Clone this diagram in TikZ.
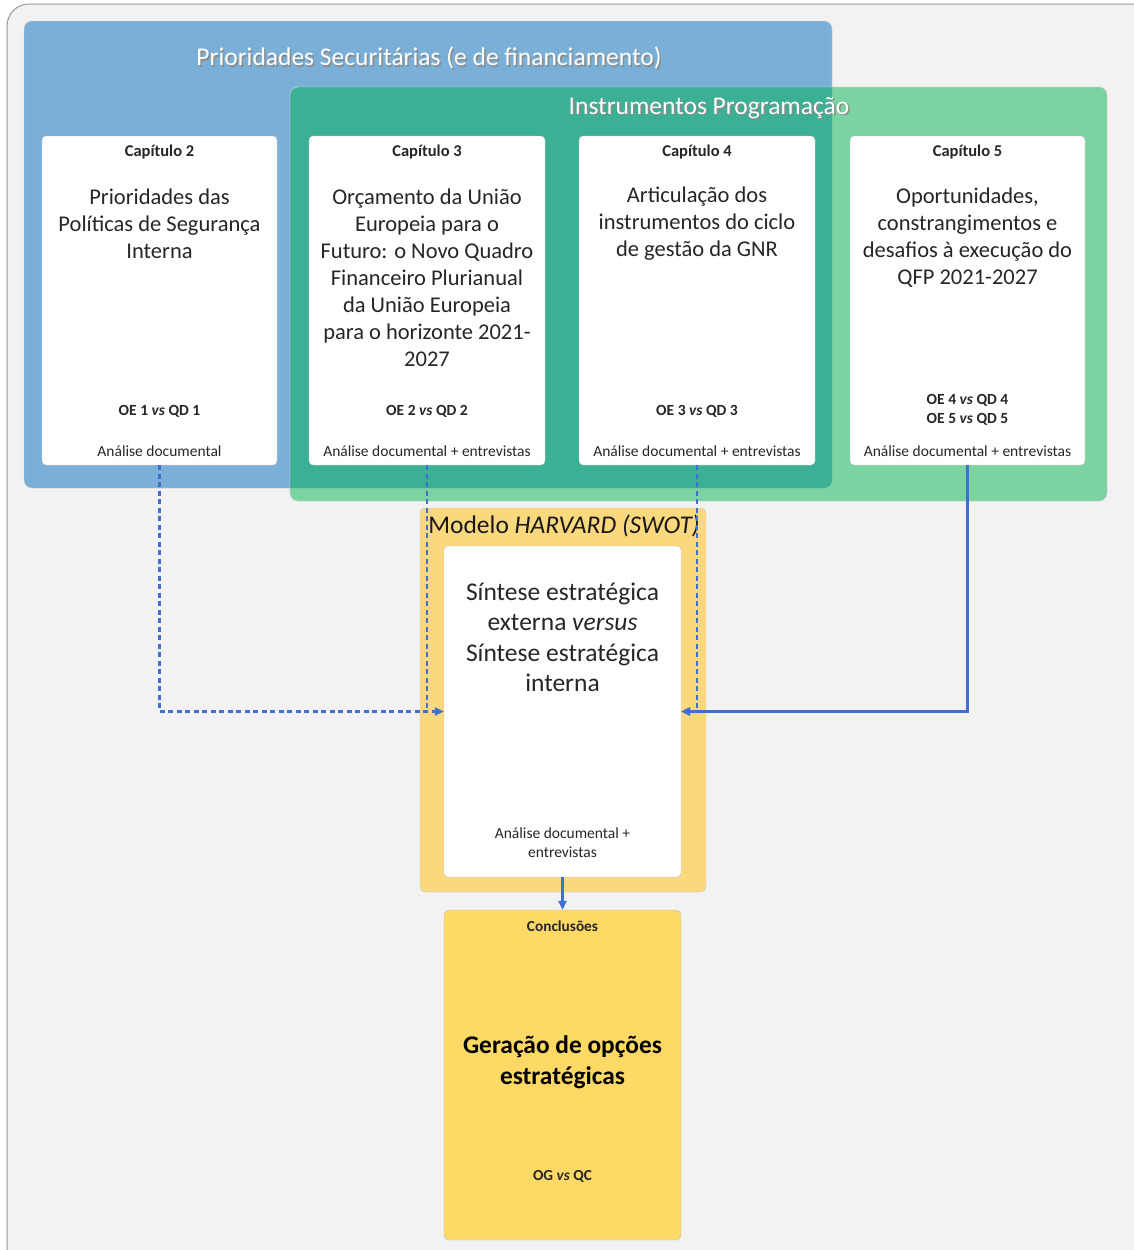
\documentclass[tikz,border=0pt]{standalone}
\usepackage{fontspec}
\setmainfont{Carlito}
\usetikzlibrary{arrows.meta}
\definecolor{bgc}{HTML}{F2F2F2}
\definecolor{bluec}{HTML}{7AB0D8}
\definecolor{greenc}{HTML}{7AD3A0}
\definecolor{tealc}{HTML}{3BB094}
\definecolor{yelo}{HTML}{F9D87E}
\definecolor{yelc}{HTML}{FFD966}
\definecolor{linec}{HTML}{3F6FD0}
\definecolor{txt}{HTML}{262626}
\tikzset{
  wbox/.style={draw=black!22, fill=white, rounded corners=4pt, inner sep=0pt},
  grp/.style={draw=black!20, rounded corners=8pt, inner sep=0pt},
  captitle/.style={font=\fontsize{16.5}{20}\selectfont\bfseries, text=txt},
  body/.style={font=\fontsize{22.5}{27}\selectfont, text=txt, align=center},
  small/.style={font=\fontsize{15.5}{19}\selectfont, text=txt, align=center},
  smallb/.style={font=\fontsize{15.5}{19}\selectfont\bfseries, text=txt, align=center},
  title/.style={font=\fontsize{25.5}{28}\selectfont, text=white},
  shadowt/.style={font=\fontsize{25.5}{28}\selectfont, text=black!45},
  conn/.style={draw=linec, line width=2.2pt},
  dsh/.style={dash pattern=on 5pt off 3.5pt},
  tip/.style={-{Triangle[length=9pt,width=8pt]}}
}
\begin{document}
\begin{tikzpicture}[x=1pt,y=-1pt]
\clip (0,0) rectangle (1134,1250);
% outer background
\node[draw=black!40, fill=bgc, rounded corners=22pt, line width=1pt, minimum width=1160pt, minimum height=1280pt, inner sep=0pt] (bg) at (587,644) {};
% groups
\node[grp, fill=bluec, minimum width=808pt, minimum height=467pt] (blue) at (428,254.5) {};
\node[grp, fill=greenc, minimum width=817pt, minimum height=414pt] (green) at (698.5,294) {};
\begin{scope}
  \clip[rounded corners=8pt] (24,21) rectangle (832,488);
  \fill[tealc, rounded corners=8pt] (290,87) rectangle (1107,501);
\end{scope}
\draw[black!20, rounded corners=8pt] (290,87) rectangle (1107,501);
% titles
\node[shadowt] (t1s) at (430.5,59.5) {Prioridades Securitárias (e de financiamento)};
\node[title] (t1) at (429,58) {Prioridades Securitárias (e de financiamento)};
\node[shadowt] (t2s) at (710.5,109.5) {Instrumentos Programação};
\node[title] (t2) at (709,108) {Instrumentos Programação};
% chapter boxes
\node[wbox, minimum width=235pt, minimum height=329pt] (c2) at (159.5,300.5) {};
\node[wbox, minimum width=236pt, minimum height=329pt] (c3) at (427,300.5) {};
\node[wbox, minimum width=236pt, minimum height=329pt] (c4) at (697,300.5) {};
\node[wbox, minimum width=235pt, minimum height=329pt] (c5) at (967.5,300.5) {};
% chapter texts
\node[captitle] (c2t) at (159.5,152) {Capítulo 2};
\node[captitle] (c3t) at (427,152) {Capítulo 3};
\node[captitle] (c4t) at (697,152) {Capítulo 4};
\node[captitle] (c5t) at (967.5,152) {Capítulo 5};
\node[body] (c2b) at (159.5,224) {Prioridades das\\Políticas de Segurança\\Interna};
\node[body] (c3b) at (427,278) {Orçamento da União\\Europeia para o\\Futuro: o Novo Quadro\\Financeiro Plurianual\\da União Europeia\\para o horizonte 2021-\\2027};
\node[body] (c4b) at (697,224) {Articulação dos\\instrumentos do ciclo\\de gestão da GNR};
\node[body] (c5b) at (967.5,237.5) {Oportunidades,\\constrangimentos e\\desafios à execução do\\QFP 2021-2027};
\node[smallb] (c2o) at (159.5,411) {OE 1 \textit{vs} QD 1};
\node[smallb] (c3o) at (427,411) {OE 2 \textit{vs} QD 2};
\node[smallb] (c4o) at (697,411) {OE 3 \textit{vs} QD 3};
\node[smallb] (c5o) at (967.5,409.5) {OE 4 \textit{vs} QD 4\\OE 5 \textit{vs} QD 5};
\node[small] (c2a) at (159.5,451) {Análise documental};
\node[small] (c3a) at (427,451) {Análise documental + entrevistas};
\node[small] (c4a) at (697,451) {Análise documental + entrevistas};
\node[small] (c5a) at (967.5,451) {Análise documental + entrevistas};
% Harvard
\node[draw=black!20, fill=yelo, rounded corners=5pt, minimum width=286pt, minimum height=384pt, inner sep=0pt] (hv) at (563,700) {};
\node[font=\fontsize{25.5}{28}\selectfont, text=black!90] (hvt) at (564,526) {Modelo \textit{HARVARD (SWOT)}};
\node[wbox, minimum width=237pt, minimum height=331pt] (h) at (562.5,711.5) {};
\node[font=\fontsize{25.5}{30.5}\selectfont, text=txt, align=center] (hb) at (562.5,637.5) {Síntese estratégica\\externa \textit{versus}\\Síntese estratégica\\interna};
\node[small] (ha) at (562.5,843) {Análise documental +\\entrevistas};
% Conclusoes
\node[draw=black!25, fill=yelc, rounded corners=5pt, minimum width=237pt, minimum height=330pt, inner sep=0pt] (cc) at (562.5,1075) {};
\node[font=\fontsize{15.3}{18}\selectfont\bfseries, text=txt] (cct) at (562.5,926) {Conclusões};
\node[font=\fontsize{25.4}{31}\selectfont\bfseries, text=black, align=center] (ccb) at (562.5,1062) {Geração de opções\\estratégicas};
\node[font=\fontsize{15.3}{19}\selectfont\bfseries, text=txt] (cco) at (562.5,1176) {OG \textit{vs} QC};
% connectors
\draw[conn, dsh, tip] (c2.south) |- (h.west);
\draw[conn, dsh] (c3.south) -- (c3.south |- h.west);
\draw[conn, dsh, tip] (c4.south) |- (h.east);
\draw[conn, tip] (c5.south) |- (h.east);
\draw[conn, tip] (h.south) -- (cc.north);
\end{tikzpicture}
\end{document}
